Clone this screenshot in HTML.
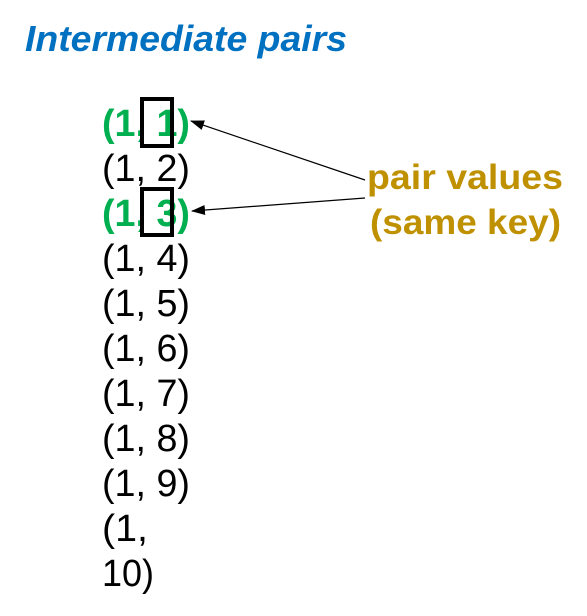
<!DOCTYPE html>
<html><head><style>body{margin:0;background:#fff}svg{display:block}</style></head>
<body>
<svg width="587" height="616" xmlns="http://www.w3.org/2000/svg">
<defs><marker id="a" markerWidth="14" markerHeight="10" refX="13" refY="5" orient="auto" markerUnits="userSpaceOnUse"><path d="M0,0 L14,5 L0,10 z" fill="#000"/></marker></defs>
<text x="25" y="51" font-family="Liberation Sans, sans-serif" font-size="36" font-weight="bold" font-style="italic" fill="#0070c0" textLength="322" lengthAdjust="spacingAndGlyphs">Intermediate pairs</text>
<g font-family="Liberation Sans, sans-serif" font-size="38">
<text x="102" y="136" fill="#00b050" font-weight="bold" textLength="88" lengthAdjust="spacingAndGlyphs">(1, 1)</text>
<text x="102" y="181" fill="#000" textLength="88" lengthAdjust="spacingAndGlyphs">(1, 2)</text>
<text x="102" y="226" fill="#00b050" font-weight="bold" textLength="88" lengthAdjust="spacingAndGlyphs">(1, 3)</text>
<text x="102" y="271" textLength="88" lengthAdjust="spacingAndGlyphs">(1, 4)</text>
<text x="102" y="316" textLength="88" lengthAdjust="spacingAndGlyphs">(1, 5)</text>
<text x="102" y="361" textLength="88" lengthAdjust="spacingAndGlyphs">(1, 6)</text>
<text x="102" y="406" textLength="88" lengthAdjust="spacingAndGlyphs">(1, 7)</text>
<text x="102" y="451" textLength="88" lengthAdjust="spacingAndGlyphs">(1, 8)</text>
<text x="102" y="496" textLength="88" lengthAdjust="spacingAndGlyphs">(1, 9)</text>
<text x="102" y="541" textLength="46" lengthAdjust="spacingAndGlyphs">(1,</text>
<text x="102" y="586" textLength="52" lengthAdjust="spacingAndGlyphs">10)</text>
</g>
<rect x="142" y="99" width="30" height="47" fill="none" stroke="#000" stroke-width="4"/>
<rect x="142" y="189" width="30" height="46" fill="none" stroke="#000" stroke-width="4"/>
<line x1="365" y1="180" x2="191" y2="121" stroke="#000" stroke-width="1.2" marker-end="url(#a)"/>
<line x1="365" y1="198" x2="192" y2="211" stroke="#000" stroke-width="1.2" marker-end="url(#a)"/>
<g font-family="Liberation Sans, sans-serif" font-size="35" font-weight="bold" fill="#bf9000">
<text x="367" y="189" textLength="196" lengthAdjust="spacingAndGlyphs">pair values</text>
<text x="370" y="234" textLength="191" lengthAdjust="spacingAndGlyphs">(same key)</text>
</g>
</svg>
</body></html>
